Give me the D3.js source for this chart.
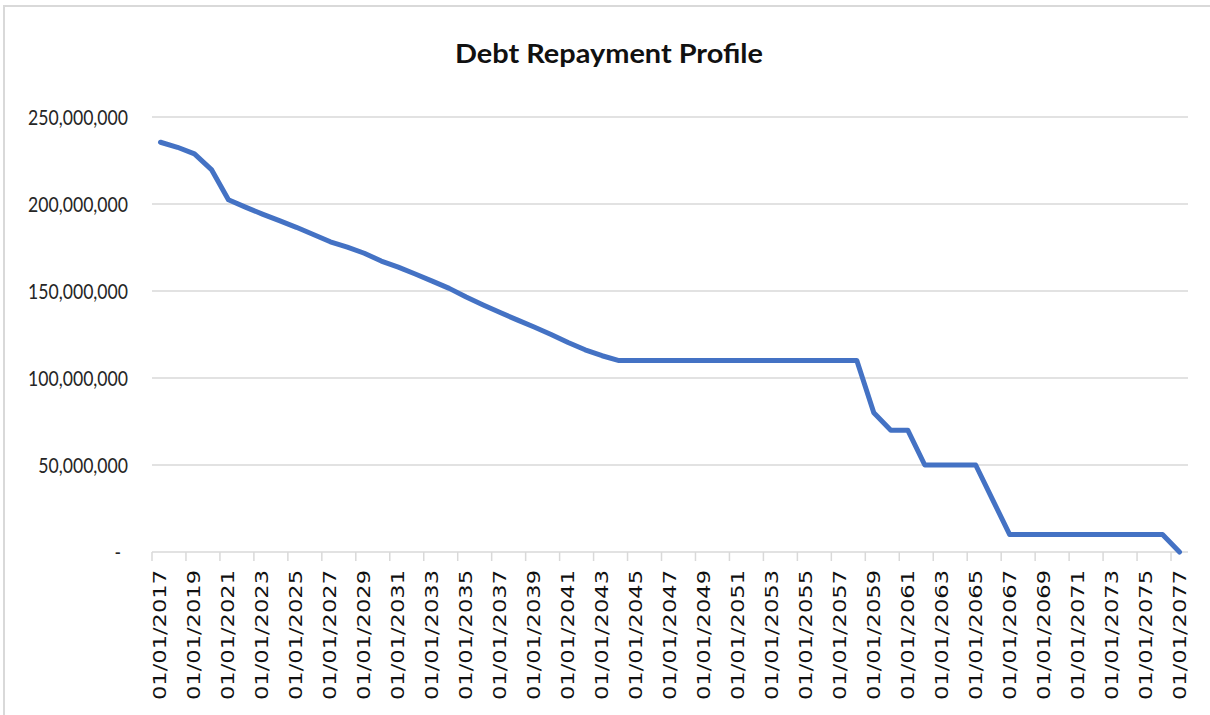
<!DOCTYPE html>
<html>
<head>
<meta charset="utf-8">
<script src="https://cdn.jsdelivr.net/npm/d3@7"></script>
<style>
  body { margin: 0; background: #fff; }
  svg { display: block; }
</style>
</head>
<body>
<svg id="chart"></svg>
<script>
// categories: one per year, 01/01 of each year
let years = [2017, 2018, 2019, 2020, 2021, 2022, 2023, 2024, 2025, 2026,
             2027, 2028, 2029, 2030, 2031, 2032, 2033, 2034, 2035, 2036,
             2037, 2038, 2039, 2040, 2041, 2042, 2043, 2044, 2045, 2046,
             2047, 2048, 2049, 2050, 2051, 2052, 2053, 2054, 2055, 2056,
             2057, 2058, 2059, 2060, 2061, 2062, 2063, 2064, 2065, 2066,
             2067, 2068, 2069, 2070, 2071, 2072, 2073, 2074, 2075, 2076,
             2077];
// outstanding debt, millions
let debtMillions = [235.5, 232.6, 228.8, 219.8, 202.4, 198.2, 194.2, 190.4, 186.6, 182.5,
                    178.3, 175.2, 171.7, 167.2, 163.7, 159.8, 155.7, 151.5, 146.5, 142.0,
                    137.6, 133.4, 129.3, 125.0, 120.4, 116.2, 112.8, 110, 110, 110,
                    110, 110, 110, 110, 110, 110, 110, 110, 110, 110,
                    110, 110, 80, 70, 70, 50, 50, 50, 50, 30,
                    10, 10, 10, 10, 10, 10, 10, 10, 10, 10,
                    0];
let yTicks = [0, 50e6, 100e6, 150e6, 200e6, 250e6];
let chartTitle = "Debt Repayment Profile";

let W = 1210, H = 715;
let margin = {top: 117, right: 22, bottom: 163, left: 152};
let plotW = W - margin.left - margin.right;
let plotH = H - margin.top - margin.bottom;

let svg = d3.select("#chart").attr("width", W).attr("height", H);

// outer chart border (only top/left visible in the crop)
svg.append("rect")
    .attr("x", 4).attr("y", 6)
    .attr("width", W + 20).attr("height", H + 20)
    .attr("fill", "none").attr("stroke", "#d9d9d9").attr("stroke-width", 2);

// title
let title = svg.append("text")
    .text(chartTitle)
    .attr("text-anchor", "middle")
    .style("font-family", "Lato, 'Open Sans', sans-serif")
    .style("font-weight", "bold")
    .style("font-size", "26.5px")
    .attr("fill", "#111");
let tw = title.node().getComputedTextLength();
title.attr("transform", "translate(609,63) scale(" + (308 / tw) + ",1)");

let g = svg.append("g")
    .attr("transform", "translate(" + margin.left + "," + margin.top + ")");

let x = d3.scaleBand()
    .domain(years)
    .range([0, plotW])
    .padding(0);

let y = d3.scaleLinear()
    .domain([0, 250e6])
    .range([plotH, 0]);

// gridlines
g.append("g")
    .selectAll("line")
    .data(yTicks.filter(d => d > 0))
    .join("line")
    .attr("x1", 0).attr("x2", plotW)
    .attr("y1", d => y(d)).attr("y2", d => y(d))
    .attr("stroke", "#d9d9d9").attr("stroke-width", 1.5);

// y axis labels
let yLab = g.append("g")
    .selectAll("text")
    .data(yTicks)
    .join("text")
    .text(d => d === 0 ? "-" : d3.format(",")(d))
    .attr("text-anchor", "end")
    .attr("dy", "0.35em")
    .style("font-family", "Lato, 'Open Sans', sans-serif")
    .style("font-size", "22px")
    .attr("fill", "#262626");
let widest = d3.max(yLab.nodes(), n => n.getComputedTextLength());
let sx = 100 / widest;
yLab.attr("transform", d => "translate(" + (-24 - (d === 0 ? 7 : 0)) + "," + y(d) + ") scale(" + sx + ",1)");

// x axis line + ticks at category boundaries, every 2nd category
let xAxis = g.append("g").attr("transform", "translate(0," + plotH + ")");
xAxis.append("line")
    .attr("x1", 0).attr("x2", plotW)
    .attr("stroke", "#d9d9d9").attr("stroke-width", 1.5);
xAxis.selectAll("line.tick")
    .data(years.filter((d, i) => i % 2 === 0))
    .join("line")
    .attr("class", "tick")
    .attr("x1", d => x(d)).attr("x2", d => x(d))
    .attr("y1", 0).attr("y2", 9)
    .attr("stroke", "#d9d9d9").attr("stroke-width", 1.5);

// x labels, rotated
xAxis.selectAll("text")
    .data(years.filter((d, i) => i % 2 === 0))
    .join("text")
    .text(d => "01/01/" + d)
    .attr("text-anchor", "end")
    .attr("dominant-baseline", "central")
    .attr("transform", d => "translate(" + (x(d) + x.bandwidth() / 2) + ",18) rotate(-90)")
    .attr("textLength", 130)
    .attr("lengthAdjust", "spacingAndGlyphs")
    .style("font-family", "'DejaVu Sans', sans-serif")
    .style("font-size", "17px")
    .attr("fill", "#111");

// the line
let line = d3.line()
    .x((d, i) => x(years[i]) + x.bandwidth() / 2)
    .y(d => y(d * 1e6));

g.append("path")
    .datum(debtMillions)
    .attr("d", line)
    .attr("fill", "none")
    .attr("stroke", "#4472c4")
    .attr("stroke-width", 5)
    .attr("stroke-linejoin", "round")
    .attr("stroke-linecap", "round");
</script>
</body>
</html>
